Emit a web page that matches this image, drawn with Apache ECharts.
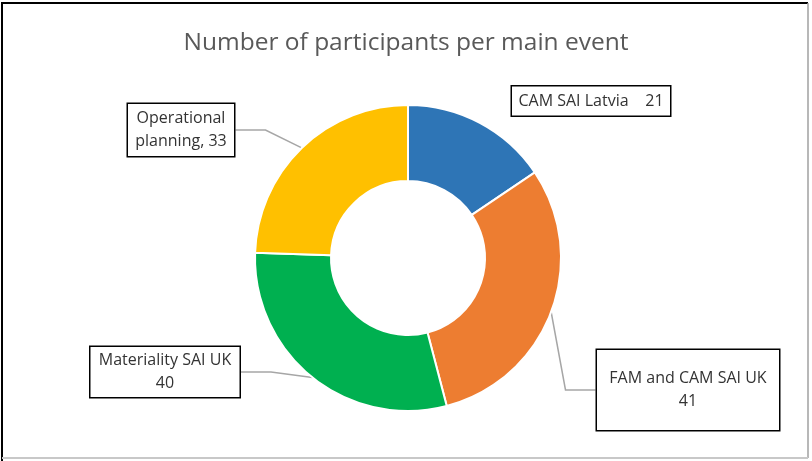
<!DOCTYPE html>
<html>
<head>
<meta charset="utf-8">
<script src="https://cdn.jsdelivr.net/npm/echarts@6/dist/echarts.min.js"></script>
<style>
  html, body { margin: 0; padding: 0; background: #fff; }
  #chart { width: 812px; height: 461px; }
</style>
</head>
<body>
<div id="chart"></div>
<script>
// data
var categories = ['CAM SAI Latvia', 'FAM and CAM SAI UK', 'Materiality SAI UK', 'Operational planning'];
var values = [21, 41, 40, 33];
var colors = ['#2E75B6', '#ED7D31', '#00B050', '#FFC000'];

// label text and box placement (per slice)
var labelText = [
  'CAM SAI Latvia    21',
  'FAM and CAM SAI UK\n41',
  'Materiality SAI UK\n40',
  'Operational\nplanning, 33'
];
var labelBox = [
  { x: 591, y: 101, width: 152, padding: [3, 3] },
  { x: 688, y: 390, width: 176, padding: [17, 3] },
  { x: 165, y: 372, width: 143, padding: [2, 3] },
  { x: 181, y: 130, width: 100, padding: [3, 3] }
];

var myChart = echarts.init(document.getElementById('chart'));

var pieData = categories.map(function (name, i) {
  return {
    name: name,
    value: values[i],
    itemStyle: { color: colors[i] },
    label: { width: labelBox[i].width, padding: labelBox[i].padding },
    labelLine: { show: i !== 0 }
  };
});

var option = {
  backgroundColor: '#fff',
  animation: false,
  title: {
    text: 'Number of participants per main event',
    left: 'center',
    top: 26,
    textStyle: {
      fontFamily: 'Open Sans',
      fontSize: 24.5,
      fontWeight: 'normal',
      color: '#595959'
    }
  },
  graphic: [
    { type: 'line', shape: { x1: 2, y1: 3, x2: 808, y2: 3 }, style: { stroke: '#000', lineWidth: 2 } },
    { type: 'line', shape: { x1: 2, y1: 2, x2: 2, y2: 461 }, style: { stroke: '#000', lineWidth: 2 } },
    { type: 'line', shape: { x1: 808, y1: 3, x2: 808, y2: 458 }, style: { stroke: '#A0A0A0', lineWidth: 1.5 } },
    { type: 'line', shape: { x1: 2, y1: 458, x2: 808, y2: 458 }, style: { stroke: '#C8C8C8', lineWidth: 2 } }
  ],
  series: [{
    name: 'Participants',
    type: 'pie',
    center: [408, 258],
    radius: [77, 153],
    startAngle: 90,
    clockwise: true,
    avoidLabelOverlap: false,
    itemStyle: { borderColor: '#fff', borderWidth: 2 },
    label: {
      show: true,
      formatter: function (p) { return labelText[p.dataIndex]; },
      fontFamily: 'Open Sans',
      fontSize: 16,
      lineHeight: 23,
      color: '#333',
      align: 'center',
      backgroundColor: '#fff',
      borderColor: '#000',
      borderWidth: 1.5
    },
    labelLine: {
      show: true,
      lineStyle: { color: '#A6A6A6', width: 1.5 }
    },
    labelLayout: function (params) {
      var b = labelBox[params.dataIndex];
      return { x: b.x, y: b.y, align: 'center', verticalAlign: 'middle' };
    },
    data: pieData
  }]
};

myChart.setOption(option);
</script>
</body>
</html>
